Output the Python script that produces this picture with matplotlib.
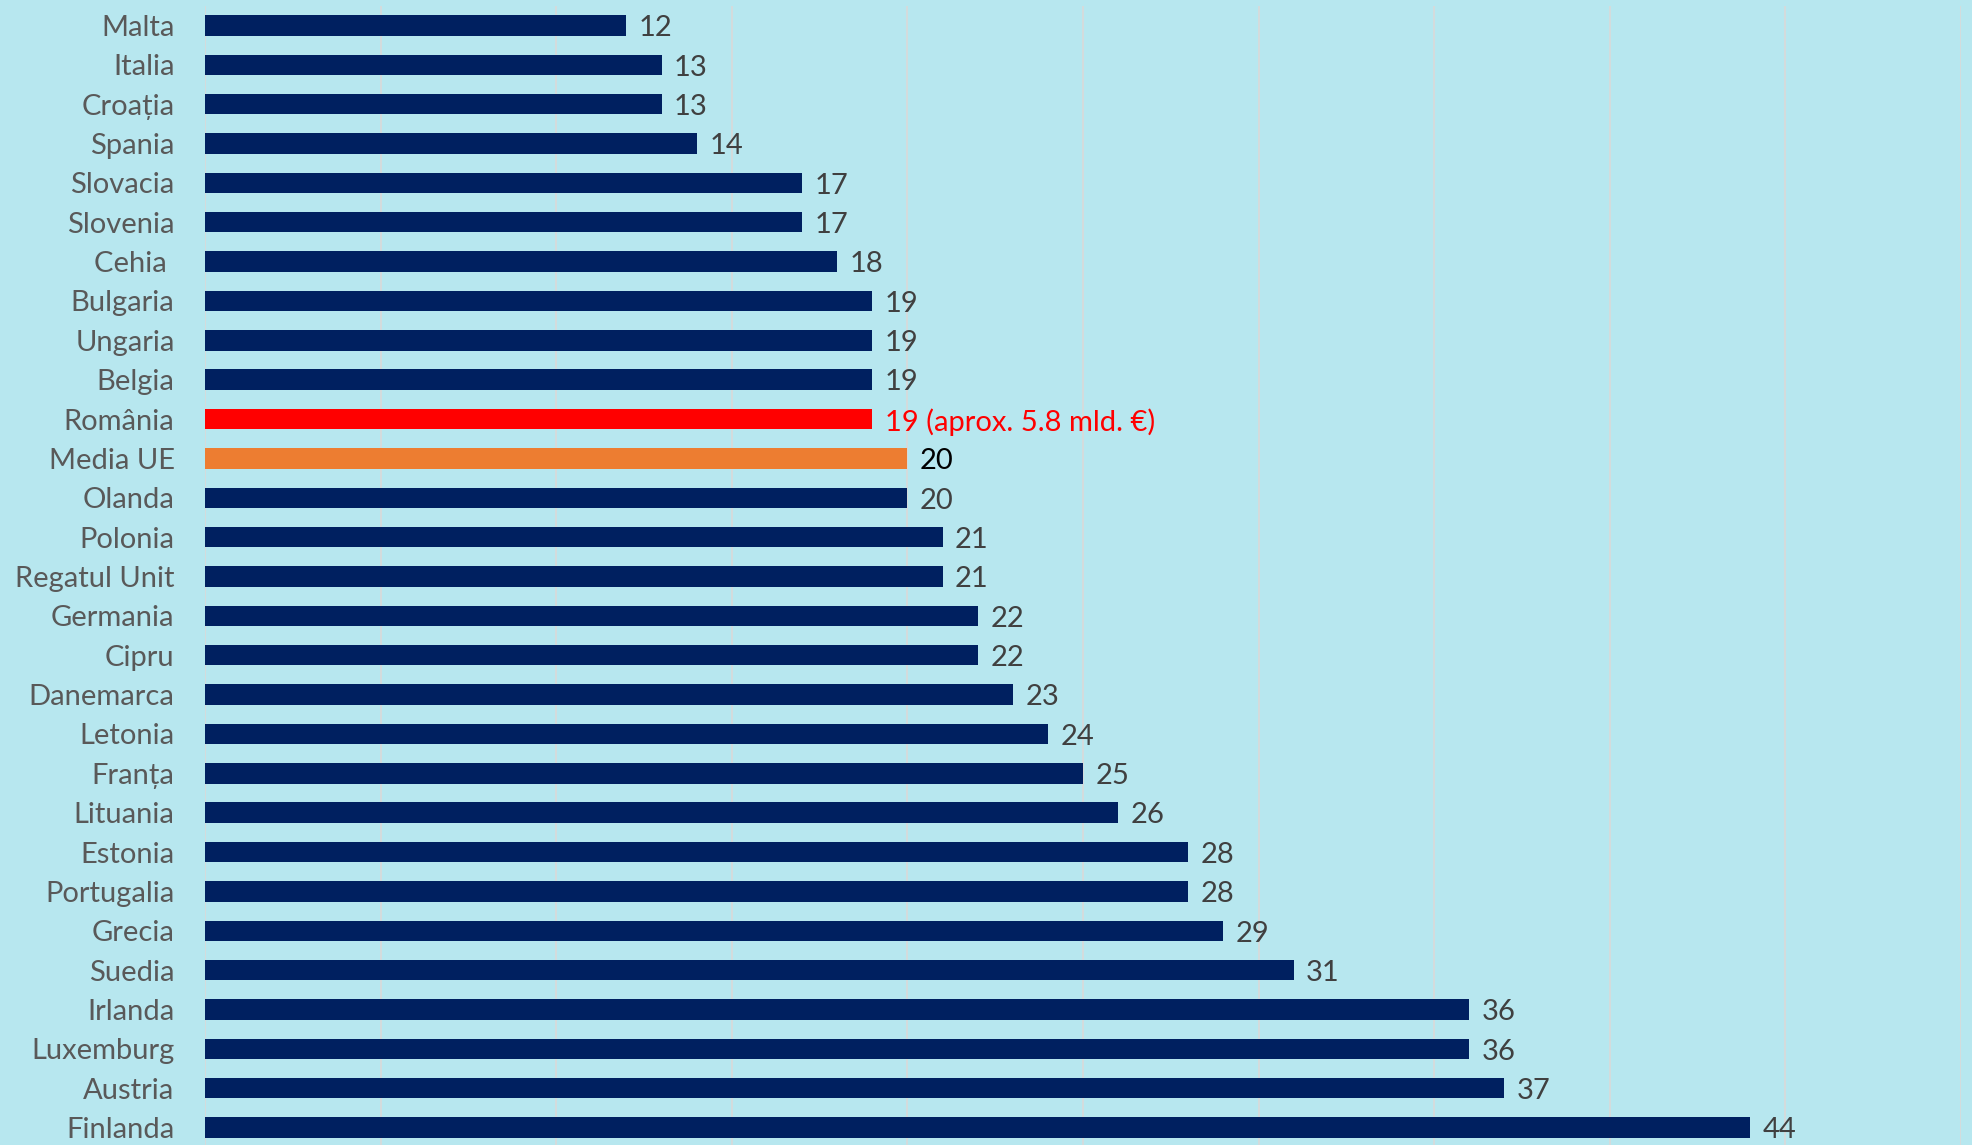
import matplotlib.pyplot as plt

countries = ["Malta", "Italia", "Croația", "Spania", "Slovacia", "Slovenia", "Cehia ",
             "Bulgaria", "Ungaria", "Belgia", "România", "Media UE", "Olanda", "Polonia",
             "Regatul Unit", "Germania", "Cipru", "Danemarca", "Letonia", "Franța",
             "Lituania", "Estonia", "Portugalia", "Grecia", "Suedia", "Irlanda",
             "Luxemburg", "Austria", "Finlanda"]
values = [12, 13, 13, 14, 17, 17, 18, 19, 19, 19, 19, 20, 20, 21, 21, 22, 22, 23, 24,
          25, 26, 28, 28, 29, 31, 36, 36, 37, 44]
value_labels = [str(v) for v in values]
value_labels[countries.index("România")] = "19 (aprox. 5.8 mld. €)"

BG = "#B7E7EF"
NAVY = "#002060"
colors = [NAVY] * len(values)
colors[countries.index("România")] = "#FF0000"
colors[countries.index("Media UE")] = "#ED7D31"
label_colors = ["#404040"] * len(values)
label_colors[countries.index("România")] = "#FF0000"
label_colors[countries.index("Media UE")] = "#000000"

plt.rcParams["font.family"] = ["Lato", "DejaVu Sans"]

fig = plt.figure(figsize=(19.72, 11.45), dpi=100, facecolor=BG)
ax = fig.add_axes([0.104, -0.002, 0.8904, 0.997])
ax.set_facecolor(BG)

y = list(range(len(values)))
ax.barh(y, values, height=0.52, color=colors, zorder=3)

ax.set_xlim(0, 50)
ax.set_ylim(len(values) - 0.5, -0.5)
ax.set_xticks(range(0, 51, 5))
ax.grid(axis="x", color="#D9D9D9", linewidth=1.2, zorder=0)
ax.tick_params(axis="x", length=0, labelbottom=False)
ax.tick_params(axis="y", length=0, pad=22)
ax.set_yticks(y)
ax.set_yticklabels(countries, fontsize=21, color="#595959")
for s in ax.spines.values():
    s.set_visible(False)

for i, (v, lab) in enumerate(zip(values, value_labels)):
    ax.annotate(lab, (v, i), xytext=(9, -2), textcoords="offset points",
                va="center", ha="left", fontsize=21, color=label_colors[i])

fig.savefig("out.png", dpi=100, facecolor=BG)
